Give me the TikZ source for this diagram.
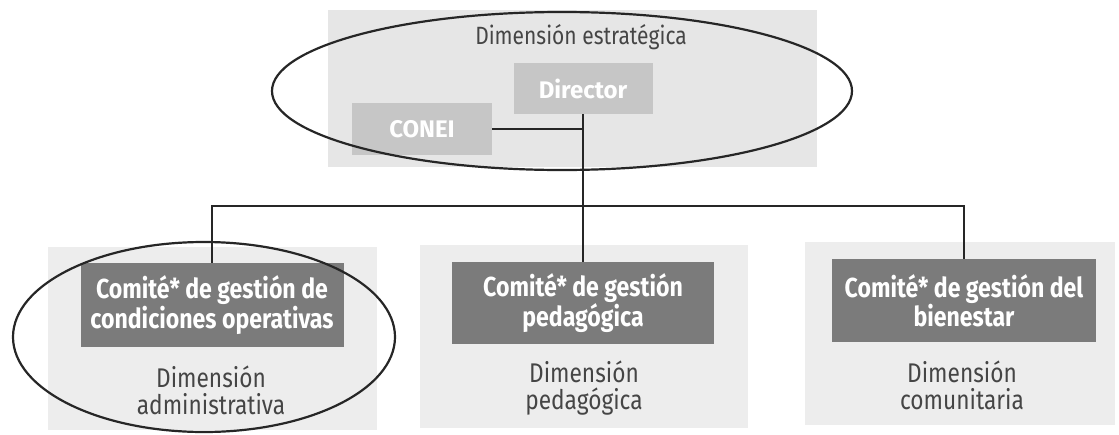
\documentclass[tikz,border=0pt]{standalone}
\usepackage{fontspec}
\setmainfont{Fira Sans}
\newfontfamily\condfont{Fira Sans}[FakeStretch=0.84]
\usetikzlibrary{shapes.geometric}
\definecolor{toppanel}{HTML}{E6E6E6}
\definecolor{botpanel}{HTML}{EDEDED}
\definecolor{litebox}{HTML}{C6C6C6}
\definecolor{darkfill}{HTML}{7B7B7B}
\definecolor{dimtext}{HTML}{454545}
\tikzset{
  panel/.style={rectangle, fill=#1, draw=none, inner sep=0pt, anchor=north west},
  lightbox/.style={rectangle, fill=litebox, draw=none, inner sep=0pt, text=white,
     font=\fontsize{24}{26}\selectfont\bfseries},
  darkbox/.style={rectangle, fill=darkfill, draw=none, inner sep=0pt, text=white, align=center,
     font=\condfont\fontsize{27.5}{25}\selectfont\bfseries},
  dimlabel/.style={text=dimtext, align=center, inner sep=0pt,
     font=\condfont\fontsize{27}{27}\selectfont},
  ring/.style={ellipse, draw=black!85, line width=2.2pt, inner sep=0pt, fill=none},
  link/.style={draw=black!85, line width=1.1pt}
}
\begin{document}
\begin{tikzpicture}[x=1pt,y=-1pt]
\useasboundingbox (0,0) rectangle (1119,434);
\fill[white] (0,0) rectangle (1119,434);
% panels
\node[panel=toppanel, minimum width=489pt, minimum height=157pt] (ptop) at (328,10) {};
\node[panel=botpanel, minimum width=329pt, minimum height=183pt] (p1) at (48,247) {};
\node[panel=botpanel, minimum width=328pt, minimum height=183pt] (p2) at (420,245) {};
\node[panel=botpanel, minimum width=310pt, minimum height=183pt] (p3) at (805,242) {};
% top
\node[dimlabel, font=\condfont\fontsize{25}{27}\selectfont] (dstrat) at (581,37) {Dimensión estratégica};
\node[lightbox, minimum width=139pt, minimum height=51pt] (director) at (583,88.5) {Director};
\node[lightbox, minimum width=140pt, minimum height=52pt] (conei) at (422,129) {CONEI};
% bottom boxes
\node[darkbox, minimum width=263pt, minimum height=84pt] (c1) at (212,305) {Comité* de gestión de\\condiciones operativas};
\node[darkbox, minimum width=262pt, minimum height=82pt] (c2) at (583,303) {Comité* de gestión\\pedagógica};
\node[darkbox, minimum width=264pt, minimum height=83pt] (c3) at (964,300.5) {Comité* de gestión del\\bienestar};
\node[dimlabel] (d1) at (211,390) {Dimensión\\administrativa};
\node[dimlabel] (d2) at (584,388) {Dimensión\\pedagógica};
\node[dimlabel] (d3) at (962,385) {Dimensión\\comunitaria};
% connectors
\coordinate (bus) at (583,206);
\draw[link] (conei.east) -- (conei.east -| director.south);
\draw[link] (director.south) -- (c2.north);
\draw[link] (c1.north) |- (bus) -| (c3.north);
% ellipses
\node[ring, minimum width=580pt, minimum height=158pt] (ringtop) at (562,91) {};
\node[ring, minimum width=382pt, minimum height=190pt] (ringadm) at (204,337) {};
\end{tikzpicture}
\end{document}
